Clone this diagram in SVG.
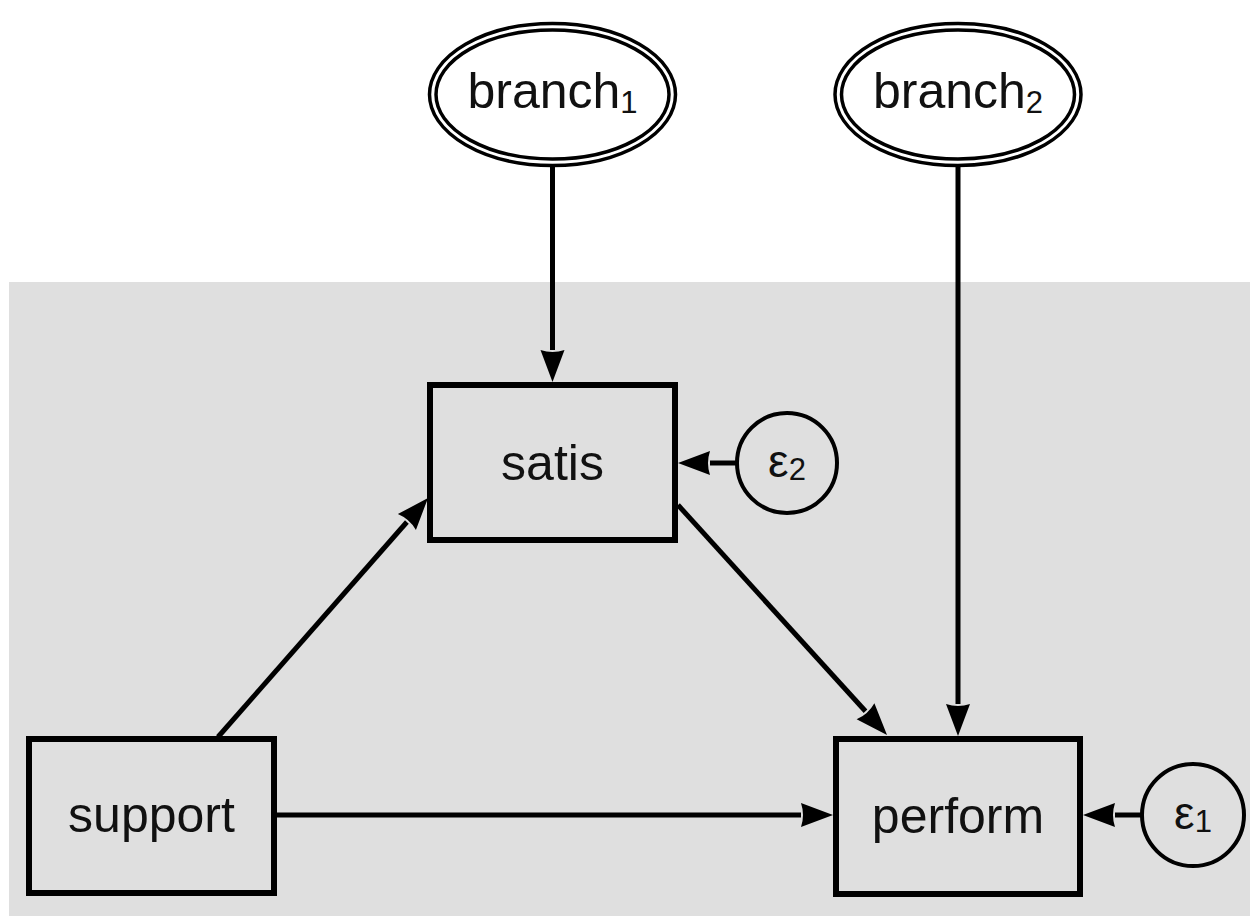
<svg xmlns="http://www.w3.org/2000/svg" width="1250" height="916" viewBox="0 0 1250 916">
  <style>
    .box { fill: none; stroke: #000; stroke-width: 6; }
    .circ { fill: none; stroke: #000; stroke-width: 4; }
    .ell { fill: #fff; stroke: #000; stroke-width: 3.5; }
    .ell2 { fill: none; stroke: #000; stroke-width: 3.5; }
    .lbl { font-family: "Liberation Sans", Arial, sans-serif; font-size: 50px; fill: #111; text-anchor: middle; }
    .eps { font-family: "Liberation Sans", Arial, sans-serif; font-size: 46px; fill: #111; text-anchor: middle; }
    .sub { font-size: 31px; }
    .conn line { stroke: #000; stroke-width: 5; marker-end: url(#arr); }
  </style>
  <defs>
    <marker id="arr" markerUnits="userSpaceOnUse" markerWidth="40" markerHeight="30" refX="0" refY="15" orient="auto" viewBox="0 0 40 30" overflow="visible">
      <path d="M0,3 L32,15 L0,27 Q4,15 0,3 Z" fill="#000"/>
    </marker>
  </defs>
  <rect x="9" y="282" width="1241" height="634" fill="#dfdfdf"/>

  <g id="branch1">
    <ellipse class="ell" cx="552.5" cy="94.5" rx="123" ry="71"/>
    <ellipse class="ell2" cx="552.5" cy="94.5" rx="116.5" ry="64.5"/>
    <text class="lbl" x="552.5" y="108">branch<tspan class="sub" dy="5">1</tspan></text>
  </g>
  <g id="branch2">
    <ellipse class="ell" cx="958" cy="94.5" rx="123" ry="71"/>
    <ellipse class="ell2" cx="958" cy="94.5" rx="116.5" ry="64.5"/>
    <text class="lbl" x="958" y="108">branch<tspan class="sub" dy="5">2</tspan></text>
  </g>
  <g id="satis">
    <rect class="box" x="430" y="385" width="245" height="155"/>
    <text class="lbl" x="552.5" y="480">satis</text>
  </g>
  <g id="eps2">
    <circle class="circ" cx="787" cy="463" r="50"/>
    <text class="eps" x="787" y="477">ε<tspan class="sub" dy="3">2</tspan></text>
  </g>
  <g id="support">
    <rect class="box" x="29" y="739" width="245" height="154"/>
    <text class="lbl" x="151.5" y="832">support</text>
  </g>
  <g id="perform">
    <rect class="box" x="836" y="739" width="244" height="155"/>
    <text class="lbl" x="958" y="833">perform</text>
  </g>
  <g id="eps1">
    <circle class="circ" cx="1193" cy="815" r="51"/>
    <text class="eps" x="1193" y="829">ε<tspan class="sub" dy="3">1</tspan></text>
  </g>

  <g id="connectors" class="conn">
    <line x1="552.5" y1="167" x2="552.5" y2="350"/>
    <line x1="958" y1="167" x2="958" y2="704"/>
    <line x1="737" y1="463" x2="710" y2="463"/>
    <line x1="1142" y1="815" x2="1115" y2="815"/>
    <line x1="277" y1="815" x2="801" y2="815"/>
    <line x1="218" y1="737" x2="406.9" y2="522"/>
    <line x1="678" y1="505" x2="865.5" y2="711.3"/>
  </g>
</svg>
